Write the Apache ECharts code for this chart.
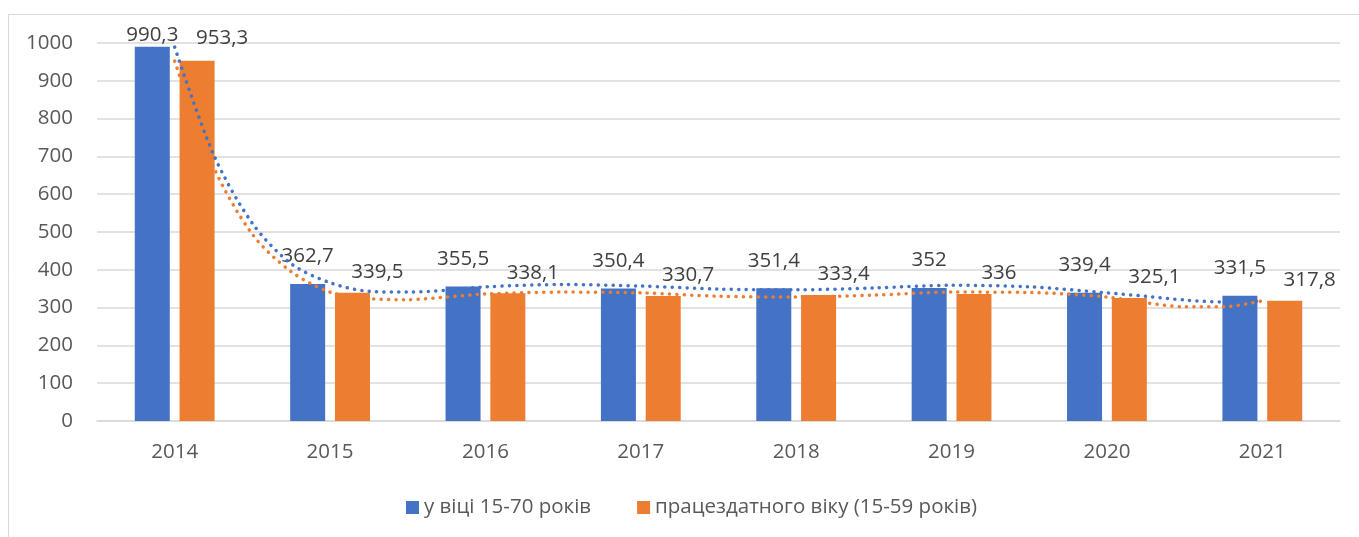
<!DOCTYPE html>
<html>
<head>
<meta charset="utf-8">
<script src="https://cdn.jsdelivr.net/npm/echarts@6/dist/echarts.min.js"></script>
<style>
    html, body { margin: 0; padding: 0; background: #fff; }
    #chart { width: 1359px; height: 537px; }
</style>
</head>
<body>
<div id="chart"></div>
<script>
const years = ['2014', '2015', '2016', '2017', '2018', '2019', '2020', '2021'];
const age1570 = [990.3, 362.7, 355.5, 350.4, 351.4, 352, 339.4, 331.5];
const workAge = [953.3, 339.5, 338.1, 330.7, 333.4, 336, 325.1, 317.8];
const yTicks = [0, 100, 200, 300, 400, 500, 600, 700, 800, 900, 1000];

// trendline points (x = category index)
const trendX = [0, 0.25, 0.5, 0.75, 1, 1.25, 1.5, 1.75, 2, 2.5, 3, 3.5, 4, 4.5, 5, 5.5, 6, 6.25, 6.5, 6.75, 7];
const trendBlue = [989, 705, 523, 416, 366, 343, 341, 346, 355, 361, 357, 349, 347, 352, 359, 355, 339, 330, 320, 315, 317];
const trendOrange = [952, 672, 494, 395, 341, 324, 321, 328, 336, 341, 339, 330, 328, 333, 341, 340, 328, 313, 302, 302, 318];

const BLUE = '#4472C4';
const ORANGE = '#ED7D31';
const TEXT = '#595959';
const FONT = 'Open Sans';
const FS = 20.5;

const pairs = (xs, ys) => xs.map((x, i) => [x, ys[i]]);
const comma = p => String(p.value).replace('.', ',');
// labels sit a bit above the bars, the first ones are squeezed by the chart top
const barItems = (vals, dist, firstDist) => vals.map((v, i) => ({
    value: v,
    label: {distance: i === 0 ? firstDist : dist}
}));

let chart = echarts.init(document.getElementById('chart'));
const option = {
    animation: false,
    textStyle: {fontFamily: FONT, color: TEXT},
    graphic: [{
        type: 'rect',
        shape: {x: 8.5, y: 14.5, width: 1400, height: 600},
        style: {fill: 'none', stroke: '#d9d9d9', lineWidth: 1}
    }],
    grid: {left: 97, right: 19, top: 43, bottom: 116},
    legend: {
        left: 401,
        top: 492,
        itemWidth: 13,
        itemHeight: 13,
        itemGap: 46,
        icon: 'rect',
        data: ['у віці 15-70 років', 'працездатного віку (15-59 років)'],
        textStyle: {fontFamily: FONT, fontSize: FS, color: TEXT}
    },
    xAxis: [{
        type: 'category',
        data: years,
        axisLine: {lineStyle: {color: '#d9d9d9', width: 1.5}},
        axisTick: {show: false},
        axisLabel: {fontFamily: FONT, fontSize: FS, color: TEXT, margin: 21}
    }, {
        type: 'value',
        min: -0.5,
        max: 7.5,
        show: false
    }],
    yAxis: {
        type: 'value',
        min: yTicks[0],
        max: yTicks[yTicks.length - 1],
        interval: 100,
        axisLine: {show: false},
        axisTick: {show: false},
        splitLine: {lineStyle: {color: '#d9d9d9', width: 1.5}},
        axisLabel: {fontFamily: FONT, fontSize: FS, color: TEXT, margin: 24, formatter: v => String(v)}
    },
    series: [
        {
            name: 'у віці 15-70 років',
            type: 'bar',
            data: barItems(age1570, 17, 1),
            barWidth: 35,
            barGap: '28%',
            itemStyle: {color: BLUE},
            label: {show: true, position: 'top', fontFamily: FONT, fontSize: FS, color: '#404040', formatter: comma}
        },
        {
            name: 'працездатного віку (15-59 років)',
            type: 'bar',
            data: barItems(workAge, 10, 12),
            barWidth: 35,
            itemStyle: {color: ORANGE},
            label: {show: true, position: 'top', offset: [25, 0], fontFamily: FONT, fontSize: FS, color: '#404040', formatter: comma}
        },
        {
            name: 'trend1',
            type: 'line',
            xAxisIndex: 1,
            data: pairs(trendX, trendBlue),
            smooth: 0.3,
            showSymbol: false,
            z: 5,
            lineStyle: {color: BLUE, width: 3.5, type: [0.1, 7.3], cap: 'round'}
        },
        {
            name: 'trend2',
            type: 'line',
            xAxisIndex: 1,
            data: pairs(trendX, trendOrange),
            smooth: 0.3,
            showSymbol: false,
            z: 5,
            lineStyle: {color: ORANGE, width: 3.5, type: [0.1, 7.3], cap: 'round'}
        }
    ]
};
chart.setOption(option);
window.addEventListener('resize', function () {
    chart.resize();
});
</script>
</body>
</html>
